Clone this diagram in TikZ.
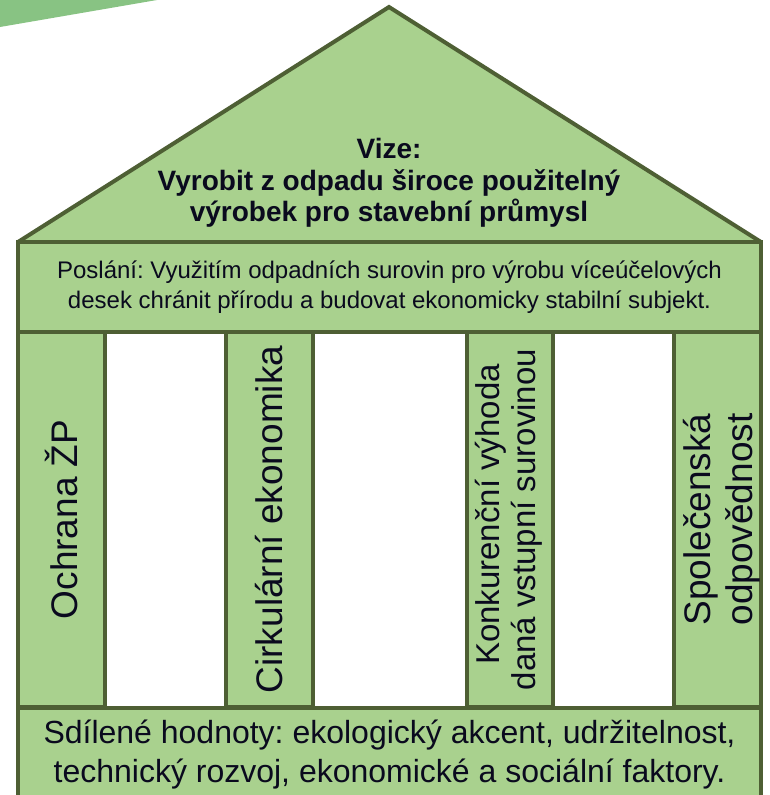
\documentclass[tikz,border=0pt]{standalone}
\usepackage{fontspec}
\setmainfont{Liberation Sans}
\frenchspacing
\definecolor{fillg}{HTML}{A9D18E}
\definecolor{lineg}{HTML}{4E5F34}
\definecolor{cornerg}{HTML}{88C383}
\definecolor{txt}{HTML}{0A0A1E}
\begin{document}
\begin{tikzpicture}[x=1pt,y=-1pt,
  box/.style={draw=lineg, line width=4pt, fill=fillg, inner sep=0pt, outer sep=0pt, rectangle, text=txt, align=center},
  pillar/.style={box, rotate=90, minimum width=375pt, minimum height=87pt},
  ptext/.style={rotate=90, text=txt, align=center, inner sep=0pt}]
\useasboundingbox (0,0) rectangle (769,795);
\fill[cornerg] (0,0) -- (157,0) -- (0,27) -- cycle;
% roof
\coordinate (rl) at (18,242);
\coordinate (apex) at (389,7);
\coordinate (rr) at (761,242);
\filldraw[draw=lineg, fill=fillg, line width=4pt, line join=miter] (rl) -- (apex) -- (rr);
\node[text=txt, align=center, font=\fontsize{28}{31.5}\selectfont\bfseries] (vize) at (389,183)
  {Vize:\\Vyrobit z odpadu široce použitelný\\výrobek pro stavební průmysl};
% pillars
\node[pillar, font=\fontsize{37}{42}\selectfont] (p1) at (61.5,519.5) {Ochrana ŽP};
\node[pillar, font=\fontsize{37}{42}\selectfont] (p2) at (269.5,519.5) {Cirkulární ekonomika};
\node[pillar, minimum height=86pt] (p3) at (510,519.5) {};
\node[ptext, font=\fontsize{33}{36}\selectfont] (t3) at ([xshift=-1pt]p3.center) {\makebox[10pt]{}Konkurenční výhoda\\daná vstupní surovinou};
\node[pillar] (p4) at (717.5,519.5) {};
\node[ptext, font=\fontsize{37}{42}\selectfont] (t4) at ([xshift=4pt]p4.center) {Společenská\\odpovědnost};
% mission
\node[box, minimum width=743pt, minimum height=90pt, font=\fontsize{24}{30}\selectfont] (mise) at (389.5,287)
  {Poslání: Využitím odpadních surovin pro výrobu víceúčelových\\desek chránit přírodu a budovat ekonomicky stabilní subjekt.};
% base
\node[box, minimum width=743pt, minimum height=94pt, font=\fontsize{32}{39}\selectfont] (base) at (389.5,755)
  {Sdílené hodnoty: ekologický akcent, udržitelnost,\\technický rozvoj, ekonomické a sociální faktory.};
\end{tikzpicture}
\end{document}
